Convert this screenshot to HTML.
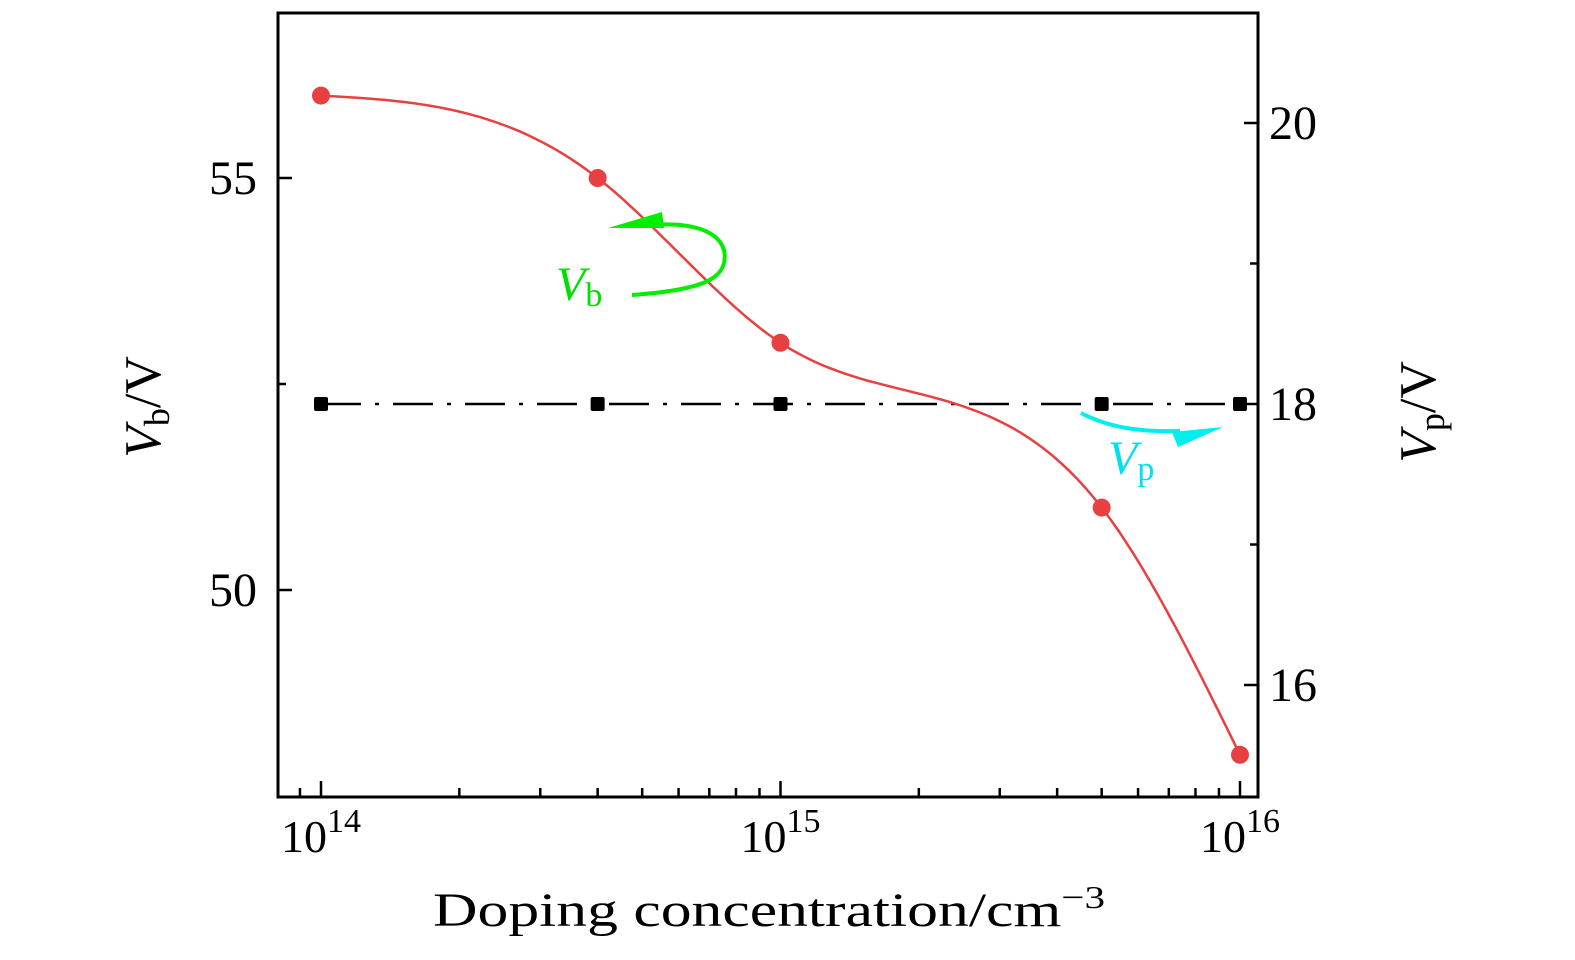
<!DOCTYPE html>
<html><head><meta charset="utf-8"><style>
body{margin:0;background:#fff}
svg text{font-family:"Liberation Serif",serif;fill:#000}
</style></head><body>
<svg id="chart" width="1575" height="955" viewBox="0 0 1575 955">
<g id="marks"></g>
<rect x="278" y="13" width="980" height="784" fill="none" stroke="#000" stroke-width="3"/>
<g id="axes"></g>
<text x="433" y="926" font-size="48" textLength="672" lengthAdjust="spacingAndGlyphs">Doping concentration/cm<tspan dy="-18" font-size="32">−3</tspan></text>
<text transform="translate(160,407) rotate(-90)" font-size="52" text-anchor="middle"><tspan font-style="italic">V</tspan><tspan font-size="36" dy="9">b</tspan><tspan dy="-9">/V</tspan></text>
<text transform="translate(1435,412) rotate(-90)" font-size="52" text-anchor="middle"><tspan font-style="italic">V</tspan><tspan font-size="36" dy="9">p</tspan><tspan dy="-9">/V</tspan></text>
<g>
<path d="M632,295 C700,290 730,280 724,250 C718,230 690,222 650,225" fill="none" stroke="#00ee00" stroke-width="4"/>
<polygon points="608,228 662,212 664,228" fill="#00ee00"/>
<text x="556" y="300" font-size="48" style="fill:#00e000"><tspan font-style="italic">V</tspan><tspan font-size="34" dy="6">b</tspan></text>
</g>
<g>
<path d="M1081,413 C1110,428 1140,432 1180,431" fill="none" stroke="#00eeee" stroke-width="4"/>
<polygon points="1172,432 1223,427 1178,447" fill="#00eeee"/>
<text x="1108" y="474" font-size="48" style="fill:#00e0f0"><tspan font-style="italic">V</tspan><tspan font-size="34" dy="6">p</tspan></text>
</g>
</svg>
<script>
const xValues=[1e14,4e14,1e15,5e15,1e16];
const vbValues=[56.0,55.0,53.0,51.0,48.0];
const vpValues=[18,18,18,18,18];
const xTickLabels=["14","15","16"];
const leftTicks=[50,55];
const rightTicks=[16,18,20];
const NS="http://www.w3.org/2000/svg";
const X=v=>321+(Math.log10(v)-14)*459.5;
const YL=v=>178-(v-55)*82.4;
const YR=v=>404-(v-18)*140.5;
const marks=document.getElementById('marks'),axes=document.getElementById('axes');
function mk(t,a,p){const e=document.createElementNS(NS,t);for(const k in a)e.setAttribute(k,a[k]);(p||marks).appendChild(e);return e;}
let l=mk('line',{x1:X(xValues[0]),y1:YR(vpValues[0]),x2:X(xValues[4]),y2:YR(vpValues[4]),stroke:'#000','stroke-width':2.5,'stroke-dasharray':'40 14 4 14'});


// natural cubic spline in pixel space
const px=xValues.map(X),py=vbValues.map(YL),n=px.length;
const h=[],al=[0],lw=[1],mu=[0],z=[0],cc=new Array(n).fill(0),bb=[],dd=[];
for(let i=0;i<n-1;i++)h.push(px[i+1]-px[i]);
for(let i=1;i<n-1;i++)al.push(3/h[i]*(py[i+1]-py[i])-3/h[i-1]*(py[i]-py[i-1]));
for(let i=1;i<n-1;i++){lw[i]=2*(px[i+1]-px[i-1])-h[i-1]*mu[i-1];mu[i]=h[i]/lw[i];z[i]=(al[i]-h[i-1]*z[i-1])/lw[i];}
z[n-1]=0;
for(let j=n-2;j>=0;j--){cc[j]=(z[j]||0)-(mu[j]||0)*cc[j+1];bb[j]=(py[j+1]-py[j])/h[j]-h[j]*(cc[j+1]+2*cc[j])/3;dd[j]=(cc[j+1]-cc[j])/(3*h[j]);}
let d='';
for(let j=0;j<n-1;j++)for(let k=0;k<=40;k++){const t=h[j]*k/40;const y=py[j]+bb[j]*t+cc[j]*t*t+dd[j]*t*t*t;d+=(d?'L':'M')+(px[j]+t).toFixed(1)+','+y.toFixed(1);}
let c=mk('path',{d:d,fill:'none',stroke:'#e84040','stroke-width':2.5});


xValues.forEach((x,i)=>{
 let s=mk('rect',{x:X(x)-7,y:YR(vpValues[i])-7,width:14,height:14,rx:2,fill:'#000'});
 
 
 let p=mk('circle',{cx:X(x),cy:YL(vbValues[i]),r:9,fill:'#e84040'});
 
 
});
for(let e=13;e<=16;e++)for(let m=1;m<10;m++){const v=m*Math.pow(10,e);const x=X(v);if(x<279||x>1257)continue;
 const len=m===1?16:9;let t=mk('line',{x1:x,y1:797,x2:x,y2:797-len,stroke:'#000','stroke-width':2.5},axes);
 
 }
xTickLabels.forEach(s=>{const x=X(Math.pow(10,+s));let t=mk('text',{x:x,y:852,'font-size':46,'text-anchor':'middle'},axes);
 t.innerHTML='10<tspan dy="-20" font-size="34">'+s+'</tspan>';
 
 });
leftTicks.forEach(v=>{const y=YL(v);let t=mk('line',{x1:278,y1:y,x2:292,y2:y,stroke:'#000','stroke-width':2.5},axes);
 
 
 let tx=mk('text',{x:257,y:y+16,'font-size':48,'text-anchor':'end'},axes);tx.textContent=v;
 
 });
[52.5].forEach(v=>{let t=mk('line',{x1:278,y1:YL(v),x2:286,y2:YL(v),stroke:'#000','stroke-width':2.5},axes);
 
 });
rightTicks.forEach(v=>{const y=YR(v);let t=mk('line',{x1:1244,y1:y,x2:1258,y2:y,stroke:'#000','stroke-width':2.5},axes);
 
 
 let tx=mk('text',{x:1269,y:y+16,'font-size':48},axes);tx.textContent=v;
 
 });
[17,19].forEach(v=>{let t=mk('line',{x1:1250,y1:YR(v),x2:1258,y2:YR(v),stroke:'#000','stroke-width':2.5},axes);
 
 });
</script>
</body></html>
